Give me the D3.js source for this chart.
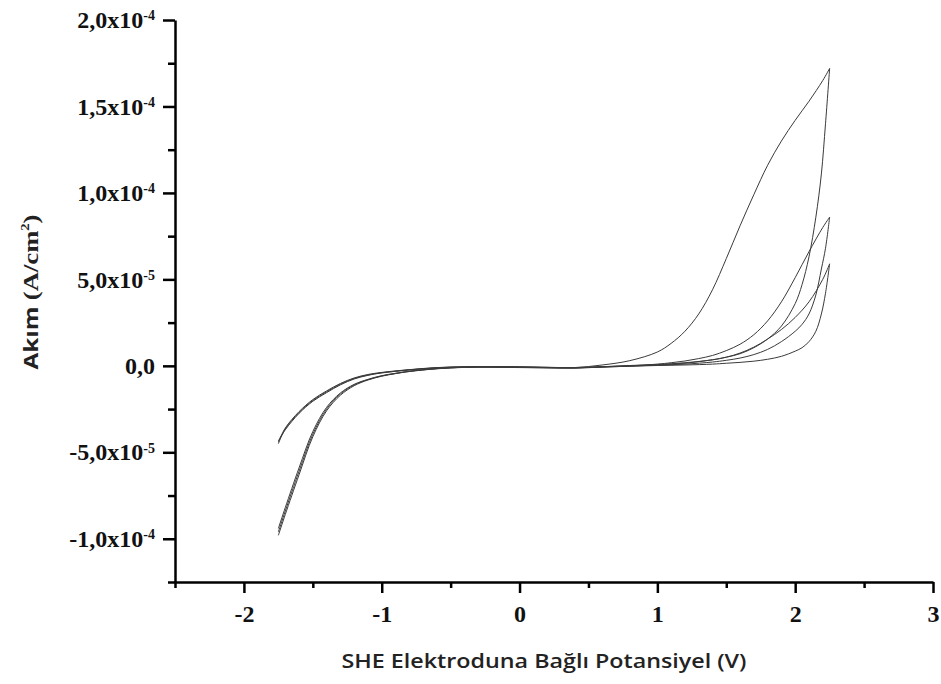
<!DOCTYPE html>
<html lang="tr">
<head>
<meta charset="UTF-8">
<title>Akım - Potansiyel</title>
<script src="https://d3js.org/d3.v7.min.js"></script>
<style>
  body { margin: 0; background: #fff; }
  .axis path, .axis line { stroke: #000; stroke-width: 2.5; }
  .axis text { font-family: "Liberation Serif", "Times New Roman", serif; font-weight: bold; font-size: 24px; fill: #111; }
  .curve { fill: none; stroke: #3a3a3a; stroke-width: 1; }
</style>
</head>
<body>
<svg width="941" height="684"></svg>
<script>

// potentials (V vs SHE) of the sampled points
var forwardE = [-1.75, -1.7, -1.6, -1.5, -1.4, -1.3, -1.2, -1.1, -1.0, -0.9, -0.8, -0.6, -0.4, -0.2, 0,
                0.2, 0.4, 0.6, 0.8, 1.0, 1.1, 1.2, 1.3, 1.4, 1.5, 1.6, 1.7, 1.8, 1.9, 2.0, 2.1, 2.2, 2.25];
var reverseE = [2.25, 2.22, 2.19, 2.15, 2.1, 2.05, 2.0, 1.9, 1.8, 1.7, 1.6, 1.5, 1.4, 1.2, 1.0, 0.8, 0.6,
                0.4, 0.2, 0, -0.2, -0.4, -0.6, -0.8, -1.0, -1.1, -1.2, -1.3, -1.4, -1.5, -1.6, -1.7, -1.75];

// currents, in units of 1e-5 A/cm2
var cycle1Forward = [-9.8, -8.6, -6.3, -4.1, -2.6, -1.7, -1.15, -0.82, -0.6, -0.45, -0.33, -0.17, -0.09, -0.06, -0.06,
                     -0.08, -0.1, 0.05, 0.3, 0.8, 1.3, 2.0, 3.0, 4.4, 6.2, 8.1, 9.9, 11.6, 13.0, 14.2, 15.3, 16.5, 17.2];
var cycle2Forward = [-9.6, -8.4, -6.1, -3.95, -2.5, -1.63, -1.1, -0.8, -0.58, -0.44, -0.32, -0.16, -0.08, -0.05, -0.06,
                     -0.09, -0.12, -0.05, 0.0, 0.1, 0.18, 0.28, 0.42, 0.6, 0.88, 1.25, 1.8, 2.6, 3.7, 5.1, 6.6, 8.0, 8.6];
var cycle3Forward = [-9.4, -8.2, -5.9, -3.8, -2.4, -1.57, -1.07, -0.78, -0.57, -0.43, -0.31, -0.16, -0.08, -0.05, -0.07,
                     -0.1, -0.13, -0.07, -0.02, 0.05, 0.1, 0.15, 0.24, 0.35, 0.5, 0.74, 1.08, 1.55, 2.1, 2.8, 3.7, 5.0, 5.9];

var cycle1Reverse = [17.2, 14.0, 11.1, 8.6, 6.3, 4.7, 3.6, 2.3, 1.55, 1.05, 0.7, 0.5, 0.35, 0.18, 0.08, 0.02, -0.05,
                     -0.1, -0.1, -0.08, -0.06, -0.05, -0.1, -0.22, -0.38, -0.5, -0.7, -1.02, -1.45, -1.95, -2.65, -3.6, -4.4];
var cycle2Reverse = [8.6, 6.8, 5.6, 4.1, 3.0, 2.4, 2.0, 1.4, 0.95, 0.65, 0.45, 0.32, 0.22, 0.1, 0.04, 0.0, -0.06,
                     -0.11, -0.11, -0.09, -0.07, -0.06, -0.11, -0.23, -0.4, -0.53, -0.73, -1.06, -1.5, -2.0, -2.7, -3.65, -4.5];
var cycle3Reverse = [5.9, 4.2, 3.0, 2.0, 1.4, 1.05, 0.85, 0.55, 0.38, 0.27, 0.2, 0.15, 0.1, 0.05, 0.02, -0.02, -0.07,
                     -0.12, -0.12, -0.1, -0.08, -0.07, -0.12, -0.24, -0.41, -0.55, -0.76, -1.1, -1.55, -2.05, -2.75, -3.7, -4.35];

// tick labels
var xTickValues = [-2, -1, 0, 1, 2, 3];
var xMinorValues = [-2.5, -1.5, -0.5, 0.5, 1.5, 2.5];
var yTickValues = [-1e-4, -5e-5, 0, 5e-5, 1e-4, 1.5e-4, 2e-4];
var yTickMantissa = ["-1,0x10", "-5,0x10", "0,0", "5,0x10", "1,0x10", "1,5x10", "2,0x10"];
var yTickExponent = ["-4", "-5", "", "-5", "-4", "-4", "-4"];
var yMinorValues = [-1.25e-4, -7.5e-5, -2.5e-5, 2.5e-5, 7.5e-5, 1.25e-4, 1.75e-4];

var svg = d3.select("svg");

var x = d3.scaleLinear().domain([-2.5, 3]).range([175, 933]);
var y = d3.scaleLinear().domain([-1.25e-4, 2e-4]).range([582, 20]);

var line = d3.line()
    .x(function(d) { return x(d[0]); })
    .y(function(d) { return y(d[1] * 1e-5); })
    .curve(d3.curveCatmullRom.alpha(0.5));

var branches = [
  [forwardE, cycle1Forward], [reverseE, cycle1Reverse],
  [forwardE, cycle2Forward], [reverseE, cycle2Reverse],
  [forwardE, cycle3Forward], [reverseE, cycle3Reverse]
];

svg.append("g").selectAll("path")
   .data(branches)
   .enter().append("path")
   .attr("class", "curve")
   .attr("d", function(b) { return line(d3.zip(b[0], b[1])); });

// x axis
svg.append("g")
   .attr("class", "axis")
   .attr("transform", "translate(0,582)")
   .call(d3.axisBottom(x).tickValues(xMinorValues).tickSize(6).tickFormat(""))
   .select(".domain").remove();

var gx = svg.append("g")
   .attr("class", "axis")
   .attr("transform", "translate(0,582)")
   .call(d3.axisBottom(x).tickValues(xTickValues).tickSize(11).tickSizeOuter(0).tickPadding(12)
         .tickFormat(function(d) { return d; }));

// y axis
svg.append("g")
   .attr("class", "axis")
   .attr("transform", "translate(175,0)")
   .call(d3.axisLeft(y).tickValues(yMinorValues).tickSize(7).tickFormat(""))
   .select(".domain").remove();

var gy = svg.append("g")
   .attr("class", "axis")
   .attr("transform", "translate(175,0)")
   .call(d3.axisLeft(y).tickValues(yTickValues).tickSize(12).tickSizeOuter(0).tickPadding(8)
         .tickFormat(""));

gy.selectAll(".tick text").each(function(d) {
  var i = yTickValues.indexOf(d);
  var t = d3.select(this).attr("dy", "0.32em");
  t.append("tspan").text(yTickMantissa[i]);
  if (yTickExponent[i]) {
    t.append("tspan").attr("dy", "-0.55em").attr("font-size", "14px").text(yTickExponent[i]);
  }
});

// axis titles
svg.append("text")
   .attr("x", 544)
   .attr("y", 668)
   .attr("text-anchor", "middle")
   .attr("font-family", "'Open Sans', sans-serif")
   .attr("font-weight", 600)
   .attr("font-size", "20px")
   .attr("fill", "#222")
   .attr("textLength", 405)
   .attr("lengthAdjust", "spacingAndGlyphs")
   .text("SHE Elektroduna Bağlı Potansiyel (V)");

var yt = svg.append("text")
   .attr("transform", "translate(38,292) rotate(-90)")
   .attr("text-anchor", "middle")
   .attr("fill", "#222")
   .attr("font-weight", "bold")
   .attr("textLength", 155)
   .attr("lengthAdjust", "spacingAndGlyphs");
yt.append("tspan").attr("font-family", "'Open Sans', sans-serif").attr("font-size", "20px").text("Akım ");
yt.append("tspan").attr("font-family", "'Liberation Serif', serif").attr("font-size", "22px").text("(A/cm");
yt.append("tspan").attr("font-family", "'Liberation Serif', serif").attr("font-size", "12px").attr("dy", "-9").text("2");
yt.append("tspan").attr("font-family", "'Liberation Serif', serif").attr("font-size", "22px").attr("dy", "9").text(")");

</script>
</body>
</html>
